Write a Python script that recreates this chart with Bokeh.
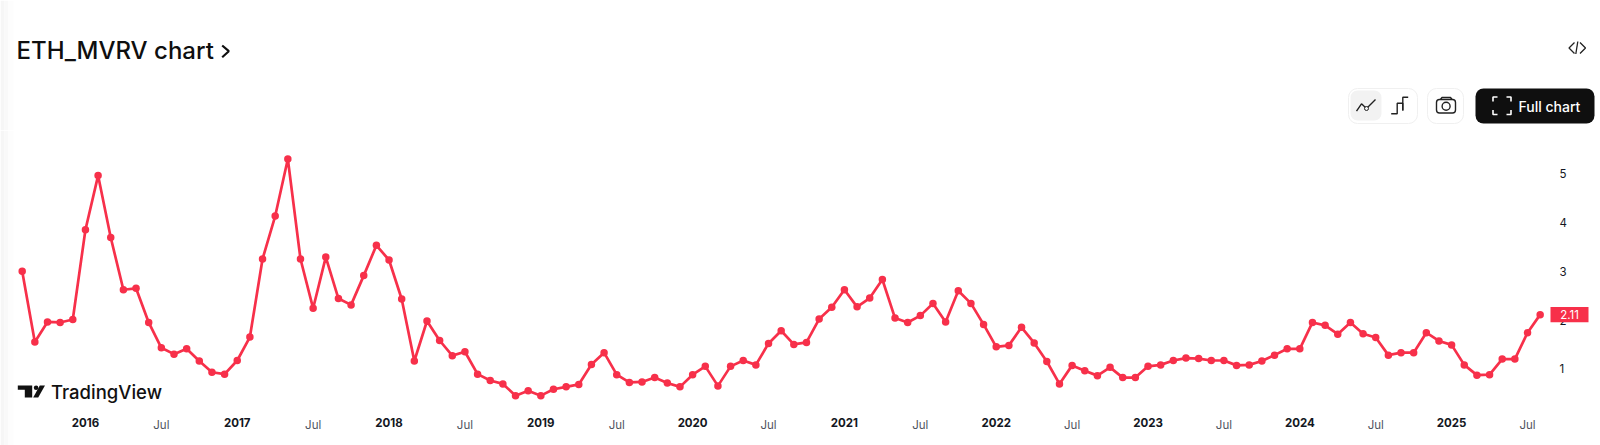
from bokeh.plotting import figure
from bokeh.layouts import column
from bokeh.models import Range1d, LinearAxis, FixedTicker
from bokeh.core.properties import value
from bokeh.embed import file_html
from bokeh.resources import INLINE

# Monthly ETH MVRV readings, Aug 2015 to Aug 2025
mvrv = [
    3.00, 1.55, 1.96, 1.95, 2.01,
    3.85, 4.96, 3.69, 2.62, 2.65, 1.95, 1.43, 1.30, 1.41, 1.16, 0.93, 0.89,
    1.17, 1.65, 3.25, 4.13, 5.30, 3.25, 2.24, 3.29, 2.44, 2.31, 2.91, 3.53,
    3.23, 2.43, 1.16, 1.98, 1.58, 1.27, 1.35, 0.89, 0.76, 0.69, 0.45, 0.55,
    0.45, 0.58, 0.63, 0.68, 1.09, 1.33, 0.88, 0.72, 0.73, 0.82, 0.71, 0.63,
    0.88, 1.05, 0.65, 1.05, 1.17, 1.08, 1.52, 1.78, 1.50, 1.54, 2.02, 2.26,
    2.62, 2.27, 2.45, 2.83, 2.04, 1.95, 2.09, 2.34, 1.96, 2.60, 2.34, 1.91,
    1.45, 1.48, 1.85, 1.53, 1.15, 0.69, 1.07, 0.96, 0.86, 1.03, 0.82, 0.82,
    1.05, 1.08, 1.17, 1.22, 1.21, 1.17, 1.17, 1.07, 1.08, 1.16, 1.28, 1.41,
    1.41, 1.95, 1.89, 1.71, 1.95, 1.72, 1.64, 1.28, 1.33, 1.33, 1.74, 1.57,
    1.49, 1.08, 0.87, 0.88, 1.20, 1.20, 1.74, 2.11,
]
month_index = list(range(len(mvrv)))
years = ["2016", "2017", "2018", "2019", "2020", "2021", "2022", "2023", "2024", "2025"]
year_ticks = [5 + 12 * i for i in range(len(years))]
july_ticks = [t + 6 for t in year_ticks]
y_ticks = [1, 2, 3, 4, 5]

RED = "#f7304a"
INK = "#131722"
FONT = "Inter"
FONT_M = "Inter Medium"

# ---------- header strip: coordinates are page pixels ----------
head = figure(width=1600, height=130, output_backend="svg", toolbar_location=None,
              x_range=Range1d(0, 1600), y_range=Range1d(130, 0),
              min_border=0, outline_line_color=None, frame_align=False)
head.axis.visible = False
head.grid.visible = False

head.quad(left=[0, 4, 8], right=[4, 8, 13], top=[0, 0, 0], bottom=[130, 130, 130],
          fill_color=["#f6f6f6", "#f9f9f9", "#fdfdfd"], line_color=None)
head.text(x=[16], y=[50], text=["ETH_MVRV chart"], text_font=value(FONT_M),
          text_font_size="24px", text_color="#0f0f0f", text_baseline="middle")
head.line([221.7, 228.3, 221.7], [45, 50.7, 56.7], line_color="#0f0f0f", line_width=2.2)

for xs, ys in [([1574, 1568.5, 1574], [42, 47.5, 53]),
               ([1577.3, 1575.3], [41, 53.5]),
               ([1579.5, 1585, 1579.5], [42, 47.5, 53])]:
    head.line(xs, ys, line_color="#222222", line_width=1.3)

# chart-type toggle
head.quad(left=[1348], right=[1417], top=[88], bottom=[123], fill_color="#ffffff",
          line_color="#f0f0f0", border_radius=9)
head.quad(left=[1350], right=[1381], top=[90], bottom=[120], fill_color="#f2f2f2",
          line_color=None, border_radius=7)
head.line([1356, 1361, 1366, 1375], [110.7, 103.3, 108, 99], line_color="#222222", line_width=1.4)
head.scatter([1366], [108], size=4, fill_color="#f2f2f2", line_color="#222222", line_width=1)
head.line([1390.7, 1396.7, 1396.7, 1402.3, 1402.3], [113.3, 113.3, 102.7, 102.7, 110],
          line_color="#222222", line_width=1.4)
head.line([1402.3, 1402.3, 1407.7], [110, 96.7, 96.7], line_color="#222222", line_width=1.4)

# camera button
head.quad(left=[1427], right=[1463], top=[88], bottom=[123], fill_color="#ffffff",
          line_color="#f0f0f0", border_radius=9)
head.quad(left=[1436], right=[1455], top=[99], bottom=[112.5], fill_color="#ffffff",
          line_color="#222222", line_width=1.4, border_radius=3)
head.line([1440, 1441.5, 1450, 1451.5], [99, 97, 97, 99], line_color="#222222", line_width=1.4)
head.scatter([1445.6], [105.7], size=8, fill_color="#ffffff", line_color="#222222", line_width=1.4)

# full chart button
head.quad(left=[1475], right=[1594], top=[88], bottom=[123], fill_color="#0f0f0f",
          line_color=None, border_radius=8)
for xs, ys in [([1492.5, 1492.5, 1497], [101, 96.5, 96.5]),
               ([1506, 1510.5, 1510.5], [96.5, 96.5, 101]),
               ([1492.5, 1492.5, 1497], [109.5, 114, 114]),
               ([1506, 1510.5, 1510.5], [114, 114, 109.5])]:
    head.line(xs, ys, line_color="#ffffff", line_width=1.6)
head.text(x=[1518], y=[105.5], text=["Full chart"], text_font=value(FONT_M),
          text_font_size="14px", text_color="#ffffff", text_baseline="middle")

# ---------- chart: the frame fills the figure, the axes sit inside it ----------
p = figure(width=1600, height=315, output_backend="svg", toolbar_location=None,
           x_range=Range1d(-1.715, 124.77), y_range=Range1d(-0.572, 5.884),
           min_border_left=0, min_border_right=0, min_border_top=0, min_border_bottom=0,
           outline_line_color=None, x_axis_location=None, y_axis_location=None,
           frame_align=False)
p.grid.visible = False
p.extra_x_ranges["px"] = Range1d(0, 1600)
p.extra_y_ranges["px"] = Range1d(445, 130)

p.quad(left=[0, 4, 8], right=[4, 8, 13], top=[130, 130, 130], bottom=[445, 445, 445],
       fill_color=["#f6f6f6", "#f9f9f9", "#fdfdfd"], line_color=None,
       x_range_name="px", y_range_name="px")

p.line(month_index, mvrv, line_color=RED, line_width=2.7)
p.scatter(month_index, mvrv, size=7.5, fill_color=RED, line_color=None)

# logo
p.patch([17.3, 31.7, 31.7, 24.3, 24.3, 17.3], [385, 385, 397, 397, 389.3, 389.3],
        fill_color="#111111", line_color=None, x_range_name="px", y_range_name="px")
p.patch([39.3, 44.5, 37.7, 32.7], [385, 385, 397, 397],
        fill_color="#111111", line_color=None, x_range_name="px", y_range_name="px")
p.scatter([35.6], [387.2], size=4.6, fill_color="#111111", line_color=None,
          x_range_name="px", y_range_name="px")
p.text(x=[50.5], y=[391], text=["TradingView"], text_font=value(FONT_M), text_font_size="18.5px",
       text_color="#111111", text_baseline="middle", x_range_name="px", y_range_name="px")


def bottom_axis(ticks, labels, style, color, standoff):
    ax = LinearAxis(ticker=FixedTicker(ticks=ticks),
                    major_label_overrides={t: s for t, s in zip(ticks, labels)},
                    axis_line_color=None, major_tick_line_color=None, minor_tick_line_color=None,
                    major_label_standoff=standoff, major_label_text_font=FONT,
                    major_label_text_font_size="11.5px", major_label_text_font_style=style,
                    major_label_text_color=color)
    p.add_layout(ax, "below")


bottom_axis(year_ticks, years, "bold", INK, -34)
bottom_axis(july_ticks, ["Jul"] * len(july_ticks), "normal", "#50535e", -34)

yax = LinearAxis(ticker=FixedTicker(ticks=y_ticks),
                 axis_line_color=None, major_tick_line_color=None, minor_tick_line_color=None,
                 major_label_standoff=-47, major_label_text_font=FONT,
                 major_label_text_font_size="11.5px", major_label_text_color=INK)
p.add_layout(yax, "right")

# last-value badge on the price scale
p.rect(x=[1569], y=[mvrv[-1]], width=[38], height=[0.31], x_range_name="px",
       fill_color=RED, line_color=None, level="annotation")
p.text(x=[1569], y=[mvrv[-1]], text=[f"{mvrv[-1]:.2f}"], x_range_name="px", text_align="center",
       text_baseline="middle", text_font=value(FONT), text_font_size="11.5px",
       text_color="#ffffff", level="annotation")

page = column(head, p, spacing=0)
open("out.html", "w").write(file_html(page, INLINE))
